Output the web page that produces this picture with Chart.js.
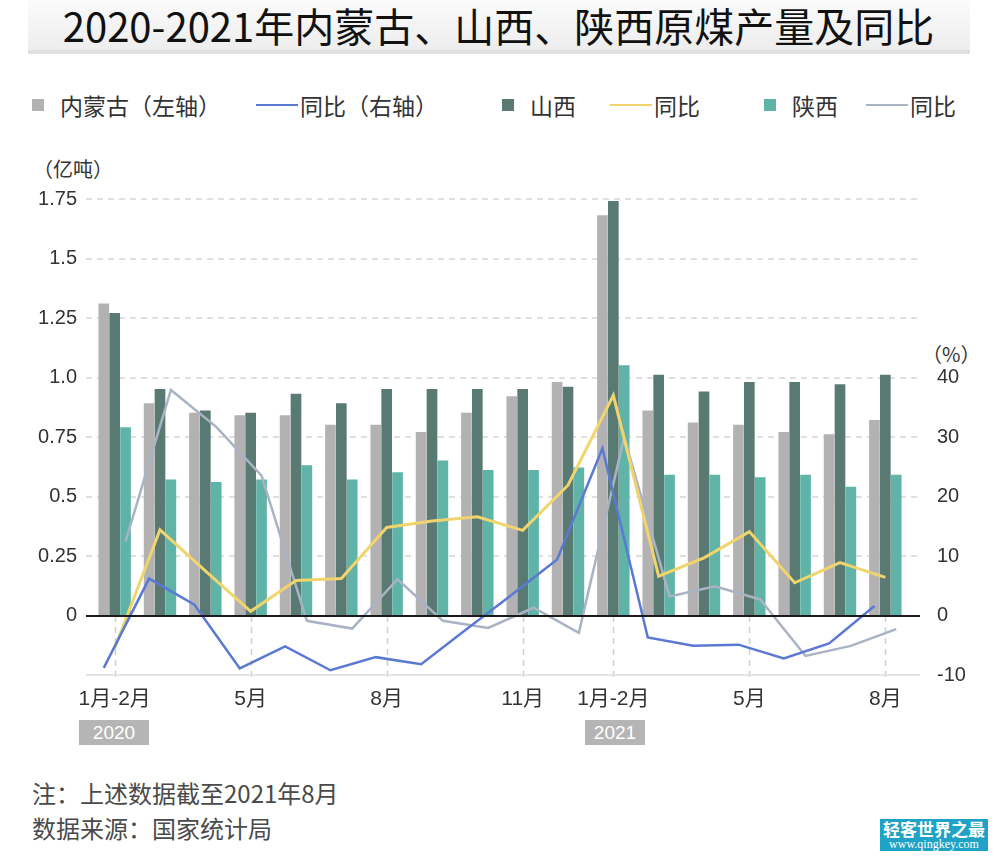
<!DOCTYPE html>
<html>
<head>
<meta charset="utf-8">
<script src="https://cdn.jsdelivr.net/npm/chart.js@4/dist/chart.umd.min.js"></script>
<style>
  body {
    margin: 0;
    width: 997px;
    height: 856px;
    position: relative;
    overflow: hidden;
    background: #fff;
    font-family: "Noto Sans CJK SC", "Liberation Sans", sans-serif;
    color: #333;
  }
  #chart { position: absolute; left: 0; top: 0; }
  .title-band {
    position: absolute; left: 28px; top: 0; width: 942px; height: 50px;
    background: linear-gradient(#fbfbfb, #ededed);
    border-bottom: 4px solid #e0e0e0;
  }
  .title {
    position: absolute; left: 0; top: 0; width: 997px; height: 50px;
    line-height: 50px; text-align: center;
    font-size: 40px; font-weight: 400; color: #111;
  }
  .legend-item {
    position: absolute; top: 90px; height: 30px;
    display: flex; align-items: center;
    font-size: 23px; color: #333; white-space: nowrap;
  }
  .legend-item .box { width: 12px; height: 12px; margin-right: 16px; }
  .legend-item .line { width: 42px; height: 2.5px; margin-right: 2px; }
  .unit { position: absolute; font-size: 20px; color: #333; }
  .year {
    position: absolute; top: 720px; height: 25px; line-height: 25px;
    background: #b5b5b5; color: #fff; text-align: center;
    font-family: "Liberation Sans", sans-serif; font-size: 19px;
  }
  .note { position: absolute; left: 32px; font-size: 24px; color: #4a4a4a; }
  .mark {
    position: absolute; left: 880px; top: 819px; width: 108px; height: 32px;
    background: #1ea3c6; color: #fff; text-align: center;
  }
  .mark b { display: block; font-size: 17px; line-height: 19px; }
  .mark span { display: block; font-family: "Liberation Serif", serif; font-size: 12px; line-height: 12px; }
</style>
</head>
<body>
<div class="title-band"></div>
<div class="title">2020-2021年内蒙古、山西、陕西原煤产量及同比</div>
<div id="legend"></div>
<div class="unit" style="left:33px;top:154px">（亿吨）</div>
<div class="unit" style="left:922px;top:339px">（%）</div>
<div class="year" style="left:79px;width:70px">2020</div>
<div class="year" style="left:585px;width:60px">2021</div>
<div class="note" style="top:775px">注：上述数据截至2021年8月</div>
<div class="note" style="top:810px">数据来源：国家统计局</div>
<div class="mark"><b>轻客世界之最</b><span>www.qingkey.com</span></div>
<canvas id="chart" width="997" height="856"></canvas>

<script>
const categories = ['1月-2月', '3月', '4月', '5月', '6月', '7月', '8月', '9月', '10月', '11月', '12月',
  '1月-2月', '3月', '4月', '5月', '6月', '7月', '8月']
const xTickLabels = ['1月-2月', '', '', '5月', '', '', '8月', '', '', '11月', '',
  '1月-2月', '', '', '5月', '', '', '8月']
const leftTickLabels = ['0', '0.25', '0.5', '0.75', '1.0', '1.25', '1.5', '1.75']
const rightTickLabels = ['-10', '0', '10', '20', '30', '40']

// output, 亿吨
const neimengguOutput = [1.31, 0.89, 0.85, 0.84, 0.84, 0.80, 0.80, 0.77, 0.85, 0.92, 0.98,
  1.68, 0.86, 0.81, 0.80, 0.77, 0.76, 0.82]
const shanxiOutput = [1.27, 0.95, 0.86, 0.85, 0.93, 0.89, 0.95, 0.95, 0.95, 0.95, 0.96,
  1.74, 1.01, 0.94, 0.98, 0.98, 0.97, 1.01]
const shaanxiOutput = [0.79, 0.57, 0.56, 0.57, 0.63, 0.57, 0.60, 0.65, 0.61, 0.61, 0.62,
  1.05, 0.59, 0.59, 0.58, 0.59, 0.54, 0.59]

// year on year, %
const neimengguYoY = [-8.8, 6.2, 1.8, -8.9, -5.2, -9.2, -7.0, -8.2, -2.3, 3.5, 9.4,
  28.1, -3.7, -5.1, -4.9, -7.2, -4.7, 1.6]
const shanxiYoY = [-5.5, 14.4, 7.5, 0.7, 5.9, 6.2, 14.8, 15.9, 16.6, 14.3, 21.9,
  37.0, 6.6, 9.7, 14.1, 5.5, 8.9, 6.4]
const shaanxiYoY = [12.4, 37.9, 31.7, 23.5, -0.9, -2.2, 6.1, -0.9, -2.1, 1.3, -2.9,
  30.0, 3.2, 4.9, 2.7, -6.8, -5.1, -2.3]

const seriesNames = ['内蒙古（左轴）', '同比（右轴）', '山西', '同比', '陕西', '同比']

const GREY = '#b3b1b2'
const DARK = '#587a73'
const TEAL = '#5fb3a7'
const BLUE = '#5a79d3'
const YELLOW = '#f1d56c'
const SLATE = '#a9b3c4'

const tickFont = { family: '"Liberation Sans", "Noto Sans CJK SC", sans-serif', size: 20 }

// each province gets its own slot inside a month group; its yoy line runs over that slot
const slotWidth = 0.24
const toPoints = (values, k) => values.map((v, i) => ({ x: i + (k - 1) * slotWidth, y: v }))

const barSet = (label, values, k, color) => ({
  type: 'bar', label, data: toPoints(values, k), backgroundColor: color,
  yAxisID: 'y', grouped: false, barThickness: 10, order: 2
})
const lineSet = (label, values, k, color, width) => ({
  type: 'line', label, data: toPoints(values, k), borderColor: color, backgroundColor: color,
  borderWidth: width, pointRadius: 0, tension: 0, yAxisID: 'y1', order: 1
})

const bars = [
  barSet(seriesNames[0], neimengguOutput, 0, GREY),
  barSet(seriesNames[2], shanxiOutput, 1, DARK),
  barSet(seriesNames[4], shaanxiOutput, 2, TEAL)
]
const lines = [
  lineSet(seriesNames[1], neimengguYoY, 0, BLUE, 2.5),
  lineSet(seriesNames[3], shanxiYoY, 1, YELLOW, 3),
  lineSet(seriesNames[5], shaanxiYoY, 2, SLATE, 2.5)
]
const legendOrder = [bars[0], lines[0], bars[1], lines[1], bars[2], lines[2]]

const guides = {
  id: 'guides',
  beforeDatasetsDraw(chart) {
    const { ctx, chartArea, scales } = chart
    const y = scales.y
    const x = scales.x
    const left = chartArea.left - 6
    const right = chartArea.right + 12
    const y0 = Math.round(y.getPixelForValue(0))
    ctx.save()
    ctx.strokeStyle = '#d6d6d6'
    ctx.lineWidth = 1.5
    ctx.setLineDash([6, 5])
    y.ticks.forEach(t => {
      if (t.value <= 0) return
      const py = Math.round(y.getPixelForValue(t.value))
      ctx.beginPath()
      ctx.moveTo(left, py)
      ctx.lineTo(right, py)
      ctx.stroke()
    })
    ctx.strokeStyle = '#cfcfcf'
    xTickLabels.forEach((l, i) => {
      if (!l) return
      const px = Math.round(x.getPixelForValue(i)) + 0.5
      ctx.beginPath()
      ctx.moveTo(px, y0)
      ctx.lineTo(px, chartArea.bottom + 4)
      ctx.stroke()
    })
    ctx.setLineDash([])
    ctx.strokeStyle = '#e3e3e3'
    ctx.lineWidth = 2
    ctx.beginPath()
    ctx.moveTo(left, chartArea.bottom)
    ctx.lineTo(right, chartArea.bottom)
    ctx.stroke()
    ctx.restore()
  },
  afterDatasetsDraw(chart) {
    const { ctx, chartArea, scales } = chart
    const y0 = Math.round(scales.y.getPixelForValue(0))
    ctx.save()
    ctx.strokeStyle = '#1a1a1a'
    ctx.lineWidth = 2
    ctx.beginPath()
    ctx.moveTo(chartArea.left - 6, y0)
    ctx.lineTo(chartArea.right + 12, y0)
    ctx.stroke()
    ctx.restore()
  }
}

new Chart(document.getElementById('chart'), {
  data: { datasets: [...bars, ...lines] },
  plugins: [guides],
  options: {
    responsive: false,
    animation: false,
    devicePixelRatio: 1,
    layout: { padding: { top: 199, bottom: 141, left: 0, right: 0 } },
    plugins: { legend: { display: false }, tooltip: { enabled: false } },
    scales: {
      x: {
        type: 'linear',
        offset: false,
        min: -0.5,
        max: categories.length - 0.5,
        grid: { display: false, drawTicks: false },
        border: { display: false },
        afterBuildTicks: s => { s.ticks = categories.map((c, i) => ({ value: i })) },
        ticks: {
          autoSkip: false, maxRotation: 0, padding: 12, color: '#333',
          font: { family: tickFont.family, size: 21 },
          callback: (v, i) => xTickLabels[i]
        },
        afterFit: s => { s.height = 40 }
      },
      y: {
        position: 'left', min: -0.25, max: 1.75,
        grid: { display: false, drawTicks: false },
        border: { display: false },
        ticks: {
          stepSize: 0.25, padding: 15, color: '#333', font: tickFont,
          callback: (v, i) => (i === 0 ? '' : leftTickLabels[i - 1])
        },
        afterFit: s => { s.width = 92 }
      },
      y1: {
        position: 'right', min: -10, max: 70,
        grid: { display: false, drawTicks: false },
        border: { display: false },
        ticks: {
          stepSize: 10, padding: 29, color: '#333', font: tickFont,
          callback: (v, i) => rightTickLabels[i] || ''
        },
        afterFit: s => { s.width = 89 }
      }
    }
  }
})

// html legend, one item per dataset
const legendLeft = [32, 256, 502, 610, 764, 866]
const legend = document.getElementById('legend')
legendOrder.forEach((d, i) => {
  const item = document.createElement('div')
  item.className = 'legend-item'
  item.style.left = legendLeft[i] + 'px'
  const m = document.createElement('span')
  m.className = d.type === 'bar' ? 'box' : 'line'
  m.style.background = d.type === 'bar' ? d.backgroundColor : d.borderColor
  item.appendChild(m)
  item.appendChild(document.createTextNode(d.label))
  legend.appendChild(item)
})
</script>
</body>
</html>
